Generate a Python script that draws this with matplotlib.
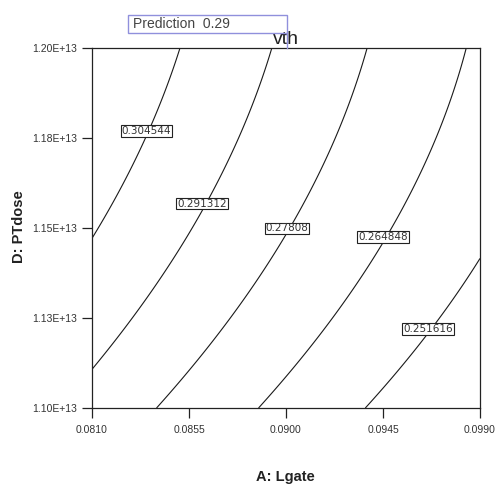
import numpy as np
import matplotlib
matplotlib.use("Agg")
import matplotlib.pyplot as plt
from matplotlib.patches import Rectangle
from matplotlib.lines import Line2D

plt.rcParams['font.family'] = ['Liberation Sans', 'DejaVu Sans']

# contour levels of vth
levels = [0.251616, 0.264848, 0.27808, 0.291312, 0.304544]

# points (Lgate, PTdose)
lgate_0304 = [0.08100, 0.08128, 0.08267, 0.08351, 0.08383, 0.08513]
dose_0304 = [1.1472e13, 1.1494e13, 1.1653e13, 1.1769e13, 1.1800e13, 1.2000e13]

lgate_0291 = [0.08105, 0.08299, 0.08471, 0.08587, 0.08615, 0.08685, 0.08810, 0.08935]
dose_0291 = [1.1111e13, 1.1244e13, 1.1403e13, 1.1522e13, 1.1569e13, 1.1633e13, 1.1781e13, 1.2000e13]

lgate_0278 = [0.08406, 0.08592, 0.08796, 0.08981, 0.08986, 0.09065, 0.09204, 0.09311, 0.09376]
dose_0278 = [1.1003e13, 1.1161e13, 1.1300e13, 1.1447e13, 1.1481e13, 1.1522e13, 1.1697e13, 1.1883e13, 1.2000e13]

lgate_0265 = [0.08879, 0.08972, 0.09125, 0.09283, 0.09445, 0.09496, 0.09622, 0.09761, 0.09840]
dose_0265 = [1.1003e13, 1.1069e13, 1.1169e13, 1.1300e13, 1.1475e13, 1.1500e13, 1.1681e13, 1.1856e13, 1.2000e13]

lgate_0252 = [0.09380, 0.09496, 0.09654, 0.09775, 0.09900]
dose_0252 = [1.1000e13, 1.1097e13, 1.1219e13, 1.1292e13, 1.1403e13]

# label positions (Lgate, PTdose) for each level
label_lgate = [0.09659, 0.09450, 0.09005, 0.08610, 0.08351]
label_dose = [1.1219e13, 1.1475e13, 1.1499e13, 1.1568e13, 1.1769e13]

xticks = [0.081, 0.0855, 0.090, 0.0945, 0.099]
xticklabels = ["0.0810", "0.0855", "0.0900", "0.0945", "0.0990"]
yticks = [1.10e13, 1.125e13, 1.15e13, 1.175e13, 1.20e13]
yticklabels = ["1.10E+13", "1.13E+13", "1.15E+13", "1.18E+13", "1.20E+13"]

x_lo, x_hi = 0.081, 0.099
y_lo, y_hi = 1.10e13, 1.20e13


def fit_surface(xs, ys, zs):
    # quadratic response surface in coded units
    u = (np.asarray(xs) - x_lo) / (x_hi - x_lo)
    v = (np.asarray(ys) - y_lo) / (y_hi - y_lo)
    A = np.column_stack([np.ones_like(u), u, v, u * u, u * v, v * v])
    coef, *_ = np.linalg.lstsq(A, np.asarray(zs), rcond=None)
    return coef


def eval_surface(coef, X, Y):
    u = (X - x_lo) / (x_hi - x_lo)
    v = (Y - y_lo) / (y_hi - y_lo)
    return coef[0] + coef[1] * u + coef[2] * v + coef[3] * u * u + coef[4] * u * v + coef[5] * v * v


traces = [(lgate_0252, dose_0252), (lgate_0265, dose_0265), (lgate_0278, dose_0278),
          (lgate_0291, dose_0291), (lgate_0304, dose_0304)]
xs, ys, zs = [], [], []
for lev, (lx, ly) in zip(levels, traces):
    xs += lx
    ys += ly
    zs += [lev] * len(lx)
coef = fit_surface(xs, ys, zs)

gx = np.linspace(x_lo, x_hi, 300)
gy = np.linspace(y_lo, y_hi, 300)
GX, GY = np.meshgrid(gx, gy)
GZ = eval_surface(coef, GX, GY)

fig = plt.figure(figsize=(4.99, 4.84), dpi=100)
ax = fig.add_axes([92 / 499, (484 - 408) / 484, 388 / 499, 360 / 484])

ax.contour(GX, GY, GZ, levels=levels, colors='#1a1a1a', linewidths=0.8)

for lev, lx, ly in zip(levels, label_lgate, label_dose):
    ax.text(lx, ly, f"{lev:g}", ha='center', va='center', fontsize=7.5, color='#333333',
            family='DejaVu Sans',
            bbox=dict(boxstyle='square,pad=0.08', fc='white', ec='#222222', lw=0.8), zorder=5)

ax.set_xlim(x_lo, x_hi)
ax.set_ylim(y_lo, y_hi)
ax.set_xticks(xticks)
ax.set_xticklabels(xticklabels)
ax.set_yticks(yticks)
ax.set_yticklabels(yticklabels)
ax.tick_params(axis='both', direction='out', length=7, width=0.9, labelsize=7.5,
               labelcolor='#333333', color='#222222')
ax.tick_params(axis='x', pad=5)
ax.tick_params(axis='y', pad=4)
for s in ax.spines.values():
    s.set_linewidth(0.9)
    s.set_color('#222222')

ax.set_title("vth", fontsize=14, pad=3, color='#222222')

fig.text(19 / 499, 1 - 227 / 484, "D: PTdose", rotation=90, ha='center', va='center',
         fontsize=10.5, fontweight='bold', color='#222222')
fig.text(285 / 499, 1 - 477 / 484, "A: Lgate", ha='center', va='center',
         fontsize=10.5, fontweight='bold', color='#222222')

# prediction box
fig.patches.append(Rectangle((128 / 499, 1 - 33 / 484), 159 / 499, 18 / 484, transform=fig.transFigure,
                             fill=False, ec='#9090dc', lw=1))
fig.lines.append(Line2D([287 / 499, 287 / 499], [1 - 33 / 484, 1 - 48 / 484], transform=fig.transFigure,
                        color='#9090dc', lw=1))
fig.text(133 / 499, 1 - 24 / 484, "Prediction  0.29", ha='left', va='center', fontsize=10, color='#444444')

fig.savefig("out.png", dpi=100)
